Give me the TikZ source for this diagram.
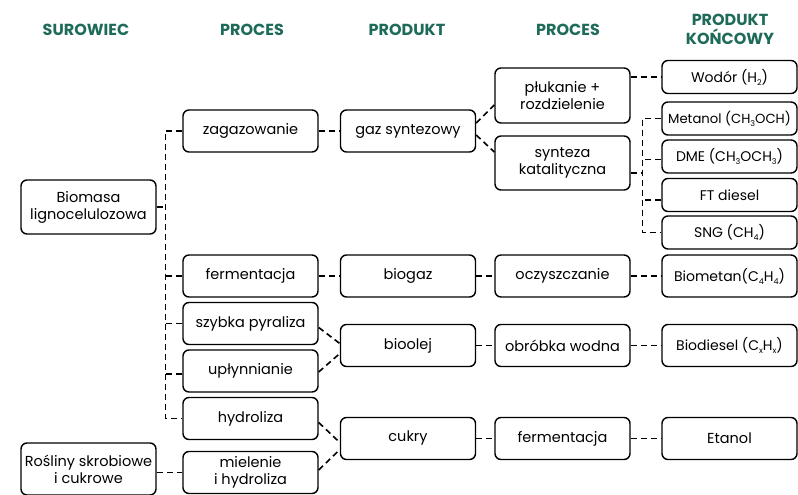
\documentclass[tikz,border=0pt]{standalone}
\usepackage{fontspec}
\setmainfont{Poppins}
\usetikzlibrary{calc}
\definecolor{hdr}{HTML}{1F6B5A}
\newcommand{\sbx}[1]{\raisebox{-0.4ex}{\fontsize{8}{8}\selectfont #1}}
\begin{document}
\begin{tikzpicture}[x=1pt,y=-1pt,
  box/.style={draw, rounded corners=6pt, line width=1.4pt, minimum width=135pt, minimum height=42pt, align=center, inner sep=0pt, font=\fontsize{14.5}{17}\selectfont},
  fbox/.style={box, minimum height=33pt, font=\fontsize{14}{17}\selectfont},
  hdrtext/.style={text=hdr, font=\fontsize{16}{19}\selectfont\bfseries, align=center},
  conn/.style={line width=1.6pt, dash pattern=on 6pt off 4pt}]
\useasboundingbox (0,0) rectangle (798,495);
% headers
\node[hdrtext] (h1) at (86,30) {SUROWIEC};
\node[hdrtext] (h2) at (252,30) {PROCES};
\node[hdrtext] (h3) at (407,30) {PRODUKT};
\node[hdrtext] (h4) at (568,30) {PROCES};
\node[hdrtext] (h5) at (730,29) {PRODUKT\\KOŃCOWY};
% column 1
\node[box, minimum height=54pt] (bio) at (88.5,207) {Biomasa\\lignocelulozowa};
\node[box, minimum height=52pt] (ros) at (88.5,469) {Rośliny skrobiowe\\i cukrowe};
% column 2
\node[box] (zag) at (250.5,131) {zagazowanie};
\node[box] (fer) at (250.5,276) {fermentacja};
\node[box] (szy) at (250.5,323.5) {szybka pyraliza};
\node[box] (upl) at (250.5,371) {upłynnianie};
\node[box] (hyd) at (250.5,418.5) {hydroliza};
\node[box] (mie) at (250.5,472.5) {mielenie\\i hydroliza};
% column 3
\node[box] (gaz) at (408,131) {gaz syntezowy};
\node[box] (bgz) at (408,276) {biogaz};
\node[box] (bol) at (408,345.5) {bioolej};
\node[box] (cuk) at (408,438.5) {cukry};
% column 4
\node[box, minimum height=55pt] (plu) at (562.5,95.5) {płukanie +\\rozdzielenie};
\node[box, minimum height=54pt] (syn) at (562.5,163) {synteza\\katalityczna};
\node[box] (ocz) at (562.5,276) {oczyszczanie};
\node[box] (obr) at (562.5,345.5) {obróbka wodna};
\node[box] (fe2) at (562.5,438.5) {fermentacja};
% column 5
\node[fbox] (wod) at (729.5,77) {Wodór (H\sbx{2})};
\node[fbox, font=\fontsize{13.2}{17}\selectfont] (met) at (729.5,118.5) {Metanol (CH\sbx{3}OCH)};
\node[fbox] (dme) at (729.5,156.5) {DME (CH\sbx{3}OCH\sbx{3})};
\node[fbox] (ftd) at (729.5,195) {FT diesel};
\node[fbox] (sng) at (729.5,232.5) {SNG (CH\sbx{4})};
\node[box, font=\fontsize{14}{17}\selectfont] (bme) at (729.5,276) {Biometan(C\sbx{4}H\sbx{4})};
\node[box, font=\fontsize{14}{17}\selectfont] (bds) at (729.5,345.5) {Biodiesel (C\sbx{x}H\sbx{x})};
\node[box] (eta) at (729.5,438.5) {Etanol};
% trunk 1
\coordinate (t1) at (165.5,0);
\draw[conn] (zag.west) -| (t1 |- hyd.west) -- (hyd.west);
\draw[conn] (bio.east) -- (bio.east -| t1);
\draw[conn] (fer.west) -- (fer.west -| t1);
\draw[conn] (szy.west) -- (szy.west -| t1);
\draw[conn] ([yshift=-3pt]upl.west) -- ([yshift=-3pt]upl.west -| t1);
% straight links
\draw[conn] (zag.east) -- (gaz.west);
\draw[conn] (fer.east) -- (bgz.west);
\draw[conn] (bgz.east) -- (ocz.west);
\draw[conn] (ocz.east) -- (bme.west);
\draw[conn] (bol.east) -- (obr.west);
\draw[conn] (obr.east) -- (bds.west);
\draw[conn] (cuk.east) -- (fe2.west);
\draw[conn] (fe2.east) -- (eta.west);
\draw[conn] (ros.east |- mie.west) -- (mie.west);
\draw[conn] (wod.west -| plu.east) -- (wod.west);
% diagonal links
\draw[conn] ([yshift=8pt]gaz.east) -- ([yshift=-9.5pt]plu.west);
\draw[conn] ([yshift=-4pt]gaz.east) -- ([yshift=11pt]syn.west);
\draw[conn] ([yshift=-4pt]szy.east) -- ([yshift=2pt]bol.west);
\draw[conn] ([yshift=-1pt]upl.east) -- ([yshift=-8pt]bol.west);
\draw[conn] ([yshift=-4pt]hyd.east) -- ([yshift=-4pt]cuk.west);
\draw[conn] ([yshift=2.5pt]mie.east) -- ([yshift=-11pt]cuk.west);
% trunk 2
\coordinate (t2) at (642.5,0);
\draw[conn] (met.west) -| (t2 |- sng.west) -- (sng.west);
\draw[conn] ([yshift=-10pt]syn.east) -- ([yshift=-10pt]syn.east -| t2);
\draw[conn] ([yshift=-3pt]dme.west) -- ([yshift=-3pt]dme.west -| t2);
\draw[conn] ([yshift=-5pt]ftd.west) -- ([yshift=-5pt]ftd.west -| t2);
\end{tikzpicture}
\end{document}
